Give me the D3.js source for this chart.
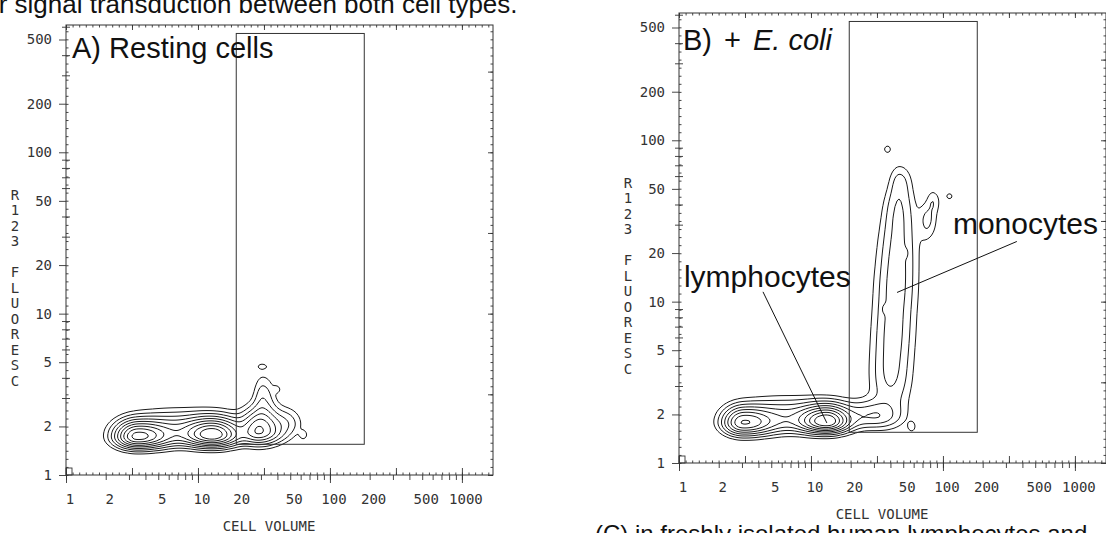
<!DOCTYPE html>
<html lang="en">
<head>
<meta charset="utf-8">
<title>R123 fluorescence vs cell volume</title>
<script src="https://cdn.jsdelivr.net/npm/d3@7/dist/d3.min.js"></script>
<style>
  body { margin: 0; background: #fff; }
  svg { display: block; }
  .plotter { font-family: "DejaVu Sans Mono", "Liberation Mono", monospace; font-size: 14px; fill: #333; }
  .big { font-family: "Liberation Sans", Arial, sans-serif; fill: #111; }
</style>
</head>
<body>
<svg id="figure" width="1106" height="533"></svg>
<script>
// ---- data ----
const xTickLabels = [1, 2, 5, 10, 20, 50, 100, 200, 500, 1000];
const yTickLabels = [1, 2, 5, 10, 20, 50, 100, 200, 500];
const yTitleLetters = ["R", "1", "2", "3", " ", "F", "L", "U", "O", "R", "E", "S", "C"];
const xTitle = "CELL VOLUME";

// gate drawn in both panels (cell volume, R123 fluorescence)
const gateX = [19.5, 182];
const gateY = [1.55, 545];

// populations: [volume, fluorescence, spread left, right, down, up (decades), weight]
const restingPopulations = [
  [3.45, 1.72, 0.10, 0.15, 0.042, 0.060, 1.0],
  [13, 1.76, 0.13, 0.12, 0.042, 0.062, 1.0],
  [29, 1.86, 0.08, 0.11, 0.048, 0.085, 0.6],
  [7, 1.87, 0.22, 0.32, 0.055, 0.075, 0.3],
  [31, 3.0, 0.045, 0.06, 0.12, 0.09, 0.14],
  [48, 2.1, 0.07, 0.07, 0.05, 0.06, 0.10],
  [30.5, 4.7, 0.025, 0.03, 0.012, 0.012, 0.08],
  [39.6, 3.4, 0.02, 0.02, 0.015, 0.015, 0.07],
  [63, 1.77, 0.02, 0.02, 0.02, 0.02, 0.08]
];
const ecoliPopulations = [
  [3.05, 1.77, 0.09, 0.14, 0.045, 0.060, 0.75],
  [13.2, 1.80, 0.12, 0.10, 0.040, 0.060, 1.05],
  [6.5, 1.88, 0.22, 0.30, 0.055, 0.075, 0.3],
  [30, 1.95, 0.15, 0.12, 0.045, 0.060, 0.22],
  [40, 3.3, 0.10, 0.10, 0.15, 0.15, 0.16],
  [42, 6.3, 0.10, 0.10, 0.15, 0.15, 0.16],
  [44, 12, 0.10, 0.10, 0.15, 0.15, 0.16],
  [45, 22, 0.09, 0.10, 0.15, 0.15, 0.15],
  [46, 38, 0.07, 0.08, 0.12, 0.10, 0.13],
  [47, 56, 0.05, 0.06, 0.08, 0.07, 0.10],
  [76, 32, 0.04, 0.05, 0.08, 0.07, 0.11],
  [84, 42, 0.03, 0.04, 0.05, 0.05, 0.08],
  [38, 88, 0.02, 0.02, 0.018, 0.018, 0.09],
  [112, 45, 0.02, 0.02, 0.016, 0.016, 0.08],
  [58, 1.68, 0.02, 0.02, 0.022, 0.022, 0.09],
  [36, 9, 0.015, 0.015, 0.02, 0.02, 0.05],
  [52, 20, 0.015, 0.015, 0.02, 0.02, 0.05]
];
const contourLevels = [0.05, 0.1, 0.17, 0.26, 0.37, 0.5, 0.65, 0.82, 1.0];

// annotations in panel B
const lymphLabel = { text: "lymphocytes", at: [1.09, 12.4], pointer: [[4.33, 11.5], [13.2, 1.77]] };
const monoLabel = { text: "monocytes", at: [119, 26.1], pointer: [[363, 23.6], [44.9, 11.4]] };

// ---- layout ----
const W = 427, H = 450;
const svg = d3.select("#figure");

const x = d3.scaleLog().domain([1, 1720]).range([0, W]);
const y = d3.scaleLog().domain([1, 615]).range([H, 0]);

const xLogMax = Math.log10(1720), yLogMax = Math.log10(615);
const channelX = d3.range(0, xLogMax, 0.05).map(v => Math.pow(10, v));
const channelY = d3.range(0, yLogMax, 0.05).map(v => Math.pow(10, v));
const halfX = d3.range(0, xLogMax, 0.5).map(v => Math.pow(10, v));
const halfY = d3.range(0, yLogMax, 0.5).map(v => Math.pow(10, v));
const minorX = [], minorY = [];
[1, 10, 100, 1000].forEach(d => d3.range(1, 10).forEach(m => {
  if (m * d <= 1720) minorX.push(m * d);
  if (m * d <= 615 && !yTickLabels.includes(m * d)) minorY.push(m * d);
}));

const panels = [
  { left: 66, top: 25, pops: restingPopulations, label: [["A) Resting cells", false]], labelPos: [6, 33], notes: [] },
  { left: 679, top: 13, pops: ecoliPopulations, label: [["B)", false], ["+", false], ["E. coli", true]], labelPos: [4, 37], notes: [lymphLabel, monoLabel] }
];

function density(vx, vy, pops) {
  const lx = Math.log10(vx), ly = Math.log10(vy);
  let s = 0;
  for (const p of pops) {
    const dx = lx - Math.log10(p[0]), dy = ly - Math.log10(p[1]);
    const sx = dx < 0 ? p[2] : p[3], sy = dy < 0 ? p[4] : p[5];
    s += p[6] * Math.exp(-0.5 * (dx * dx / (sx * sx) + dy * dy / (sy * sy)));
  }
  return s;
}

function ticks(g, axis, values, size, transform) {
  g.append("g")
    .attr("transform", transform)
    .attr("color", "#333")
    .call(axis.tickValues(values).tickSize(size).tickFormat(""))
    .call(s => s.select(".domain").remove())
    .call(s => s.selectAll("line").attr("stroke-width", 0.9));
}

panels.forEach((p, pi) => {
  const g = svg.append("g").attr("transform", `translate(${p.left},${p.top})`);

  // contours
  const step = 2;
  const nx = Math.ceil(W / step) + 1, ny = Math.ceil(H / step) + 1;
  const values = new Float64Array(nx * ny);
  for (let j = 0; j < ny; j++) {
    for (let i = 0; i < nx; i++) {
      values[j * nx + i] = density(x.invert(Math.min(i * step, W)), y.invert(Math.min(j * step, H)), p.pops);
    }
  }
  const contours = d3.contours().size([nx, ny]).thresholds(contourLevels)(values);
  const path = d3.geoPath(d3.geoIdentity().scale(step).translate([-step / 2, -step / 2]));
  g.append("clipPath").attr("id", "clip" + pi)
    .append("rect").attr("width", W).attr("height", H);
  g.append("g").attr("clip-path", `url(#clip${pi})`)
    .selectAll("path").data(contours).join("path")
    .attr("d", path)
    .attr("fill", "none")
    .attr("stroke", "#1a1a1a")
    .attr("stroke-width", 1)
    .attr("stroke-linejoin", "round");

  // frame
  g.append("rect").attr("width", W).attr("height", H)
    .attr("fill", "none").attr("stroke", "#333").attr("stroke-width", 1);

  // gate
  g.append("rect")
    .attr("x", x(gateX[0])).attr("y", y(gateY[1]))
    .attr("width", x(gateX[1]) - x(gateX[0]))
    .attr("height", y(gateY[0]) - y(gateY[1]))
    .attr("fill", "none").attr("stroke", "#333").attr("stroke-width", 1);

  // small marker at the origin
  g.append("rect").attr("x", 0).attr("y", H - 7).attr("width", 6).attr("height", 7)
    .attr("fill", "none").attr("stroke", "#333").attr("stroke-width", 0.9);

  // bottom axis
  ticks(g, d3.axisTop(x), channelX, 2.5, `translate(0,${H})`);
  ticks(g, d3.axisTop(x), halfX, 7, `translate(0,${H})`);
  ticks(g, d3.axisBottom(x), minorX, 5, `translate(0,${H})`);
  ticks(g, d3.axisBottom(x), [1, 10, 100, 1000], 8, `translate(0,${H})`);
  // top border
  ticks(g, d3.axisBottom(x), channelX, 2.5, "translate(0,0)");
  ticks(g, d3.axisBottom(x), halfX, 5, "translate(0,0)");
  // left axis
  ticks(g, d3.axisRight(y), channelY, 2.5, "translate(0,0)");
  ticks(g, d3.axisLeft(y), minorY, 4, "translate(0,0)");
  ticks(g, d3.axisRight(y), minorY, 4, "translate(0,0)");
  ticks(g, d3.axisLeft(y), yTickLabels, 7, "translate(0,0)");
  // right border
  ticks(g, d3.axisLeft(y), channelY, 2.5, `translate(${W},0)`);
  ticks(g, d3.axisLeft(y), halfY, 5, `translate(${W},0)`);

  g.append("g").selectAll("text").data(xTickLabels).join("text")
    .attr("class", "plotter")
    .attr("x", d => x(d) + 4)
    .attr("y", H + 29)
    .attr("text-anchor", "middle")
    .text(d => d);

  g.append("g").selectAll("text").data(yTickLabels).join("text")
    .attr("class", "plotter")
    .attr("x", -14)
    .attr("y", d => y(d))
    .attr("dy", "0.35em")
    .attr("text-anchor", "end")
    .text(d => d);

  g.append("g").selectAll("text").data(yTitleLetters).join("text")
    .attr("class", "plotter")
    .attr("x", -51)
    .attr("y", (d, i) => 170 + i * 15.5)
    .attr("dy", "0.35em")
    .attr("text-anchor", "middle")
    .text(d => d);

  g.append("text").attr("class", "plotter")
    .attr("x", 203).attr("y", H + 56)
    .attr("text-anchor", "middle")
    .text(xTitle);

  // panel label
  const lab = g.append("text").attr("class", "big")
    .attr("x", p.labelPos[0]).attr("y", p.labelPos[1])
    .attr("font-size", 29);
  p.label.forEach(([t, it], k) => {
    lab.append("tspan")
      .attr("dx", k === 0 ? 0 : 12)
      .attr("font-style", it ? "italic" : "normal")
      .text(t);
  });

  // annotations
  p.notes.forEach(n => {
    g.append("line")
      .attr("x1", x(n.pointer[0][0])).attr("y1", y(n.pointer[0][1]))
      .attr("x2", x(n.pointer[1][0])).attr("y2", y(n.pointer[1][1]))
      .attr("stroke", "#111").attr("stroke-width", 1);
    g.append("text").attr("class", "big")
      .attr("x", x(n.at[0])).attr("y", y(n.at[1]))
      .attr("font-size", 30)
      .text(n.text);
  });
});

// surrounding page text, cropped by the scan
svg.append("text").attr("class", "big")
  .attr("x", -23).attr("y", 13).attr("font-size", 26)
  .text("for signal transduction between both cell types.");
svg.append("text").attr("class", "big")
  .attr("x", 595).attr("y", 542).attr("font-size", 24)
  .text("(C) in freshly isolated human lymphocytes and");
</script>
</body>
</html>
